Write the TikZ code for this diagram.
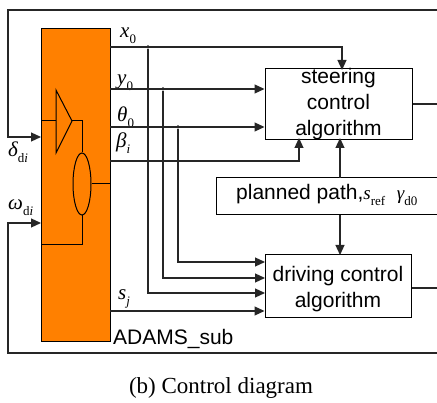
\documentclass[tikz,border=0pt]{standalone}
\usepackage{fontspec}
\setmainfont{Liberation Serif}
\newfontfamily\arialfont{Liberation Sans}
\usetikzlibrary{arrows.meta,calc,shapes.geometric}
\definecolor{adamsorange}{RGB}{255,128,0}
% lowered upright subscript for signal names
\newcommand\lblsub[1]{\raisebox{-0.28em}{\rmfamily\upshape\fontsize{13}{13}\selectfont #1}}
\newcommand\mth[1]{{\rmfamily\itshape #1}}

\begin{document}
\begin{tikzpicture}[x=1pt,y=-1pt,
  wire/.style={draw=black!85,line width=1.2pt},
  feed/.style={wire,-{Triangle[length=10pt,width=9pt]}},
  block/.style={draw=black,line width=1pt,fill=white,inner sep=0pt},
  blocktext/.style={font=\arialfont\fontsize{21}{26}\selectfont,align=center,inner sep=0pt},
  sig/.style={font=\fontsize{21}{21}\selectfont,inner sep=0pt,anchor=base west},
  junction/.style={circle,fill=black,inner sep=0pt,minimum size=3.5pt},
  inner/.style={draw=black,line width=1pt}]

\path[use as bounding box, clip] (0,0) rectangle (437,403);

% ADAMS sub-system block
\node[draw=black,line width=1pt,fill=adamsorange,minimum width=69pt,minimum height=313pt,
      inner sep=0pt,anchor=north west] (adams) at (41,28) {};
\node[font=\arialfont\fontsize{21}{21}\selectfont,anchor=base west,inner sep=0pt]
      (adamslabel) at (113,345) {ADAMS\_sub};

% symbols inside the ADAMS block
\coordinate (ampin) at (41,121);
\coordinate (ampl) at (56,121);
\coordinate (amptip) at (72,121);
\coordinate (ampbend) at (82,121);
\draw[inner] (56,90) -- (amptip) -- (56,153) -- cycle;
\node[draw=black,line width=1pt,ellipse,minimum width=18pt,minimum height=62pt,inner sep=0pt]
      (valve) at (82,184) {};
\coordinate (valveout) at (110,184);
\coordinate (retbend) at (82,245);
\coordinate (retin) at (41,245);
\draw[inner] (ampin) -- (ampl);
\draw[inner] (amptip) -- (ampbend) -- (valve.north);
\draw[inner] (valve.east) -- (valveout);
\draw[inner] (valve.south) -- (retbend) -- (retin);

% controller blocks
\node[block,blocktext,minimum width=147pt,minimum height=68pt] (steer) at (338.5,104)
      {steering\\control\\algorithm};
\node[block,minimum width=146pt,minimum height=63pt] (drive) at (338,286.5) {};
\node[blocktext] (drivetext) at (338,289.5) {driving control\\algorithm};
\node[block,minimum width=240pt,minimum height=37pt,anchor=west] (plan) at (216,196.5) {};
\node[font=\arialfont\fontsize{21}{21}\selectfont,inner sep=0pt,anchor=base west] (plantext)
      at (236,200) {planned path,{\fontsize{19}{19}\selectfont\mth{s}}\lblsub{ref}\hspace{0.55em}{\fontsize{19}{19}\selectfont\mth{γ}}\lblsub{d0}};

% output ports of the ADAMS block
\coordinate (x0o) at (110,47);
\coordinate (y0o) at (110,89);
\coordinate (th0o) at (110,127);
\coordinate (betao) at (110,161);
\coordinate (sjo) at (110,311);

\node[sig] (lx) at (120,38) {\mth{x}\lblsub{0}};
\node[sig] (ly) at (117,85) {\mth{y}\lblsub{0}};
\node[sig] (lt) at (117,122) {\mth{θ}\lblsub{0}};
\node[sig] (lb) at (116,148) {\mth{β}\lblsub{\itshape i}};
\node[sig] (ls) at (118,300) {\mth{s}\lblsub{\itshape j}};

% branch points
\node[junction] (jx) at (148,47) {};
\node[junction] (jy) at (163,89) {};
\node[junction] (jt) at (178,127) {};

% targets on the controller blocks
\coordinate (steertop) at (342,70);
\coordinate (steerbeta) at (299,138);
\coordinate (steerbot) at (340,138);
\coordinate (plantop) at (340,178);
\coordinate (planbot) at (340,215);
\coordinate (drivetop) at (340,255);
\coordinate (dx) at (265,293);
\coordinate (dy) at (265,278);
\coordinate (dt) at (265,262);

\draw[feed] (x0o) -| (steertop);
\draw[feed] (y0o) -- (y0o -| steer.west);
\draw[feed] (th0o) -- (th0o -| steer.west);
\draw[feed] (betao) -| (steerbeta);
\draw[feed] (jx) |- (dx);
\draw[feed] (jy) |- (dy);
\draw[feed] (jt) |- (dt);
\draw[feed] (sjo) -- (sjo -| drive.west);
\draw[feed] (plantop) -- (steerbot);
\draw[feed] (planbot) -- (drivetop);

% controller outputs
\coordinate (steerout) at (440,104);
\coordinate (driveout) at (440,288);
\draw[wire] (steer.east) -- (steerout);
\draw[wire] (drive.east |- driveout) -- (driveout);

% feedback into the ADAMS block
\coordinate (fbtopr) at (440,10);
\coordinate (fbtopl) at (8,10);
\coordinate (deltain) at (41,137);
\coordinate (fbbotr) at (440,353);
\coordinate (fbbotl) at (8,353);
\coordinate (omegain) at (41,223);
\draw[feed] (fbtopr) -- (fbtopl) |- (deltain);
\draw[feed] (fbbotr) -- (fbbotl) |- (omegain);

\node[sig] (ld) at (8,157) {\mth{δ}\lblsub{d\itshape i}};
\node[sig] (lw) at (8,210) {\mth{ω}\lblsub{d\itshape i}};

% caption
\node[font=\fontsize{23}{23}\selectfont,anchor=base,inner sep=0pt] (caption) at (221,394)
      {(b) Control diagram};
\end{tikzpicture}
\end{document}
